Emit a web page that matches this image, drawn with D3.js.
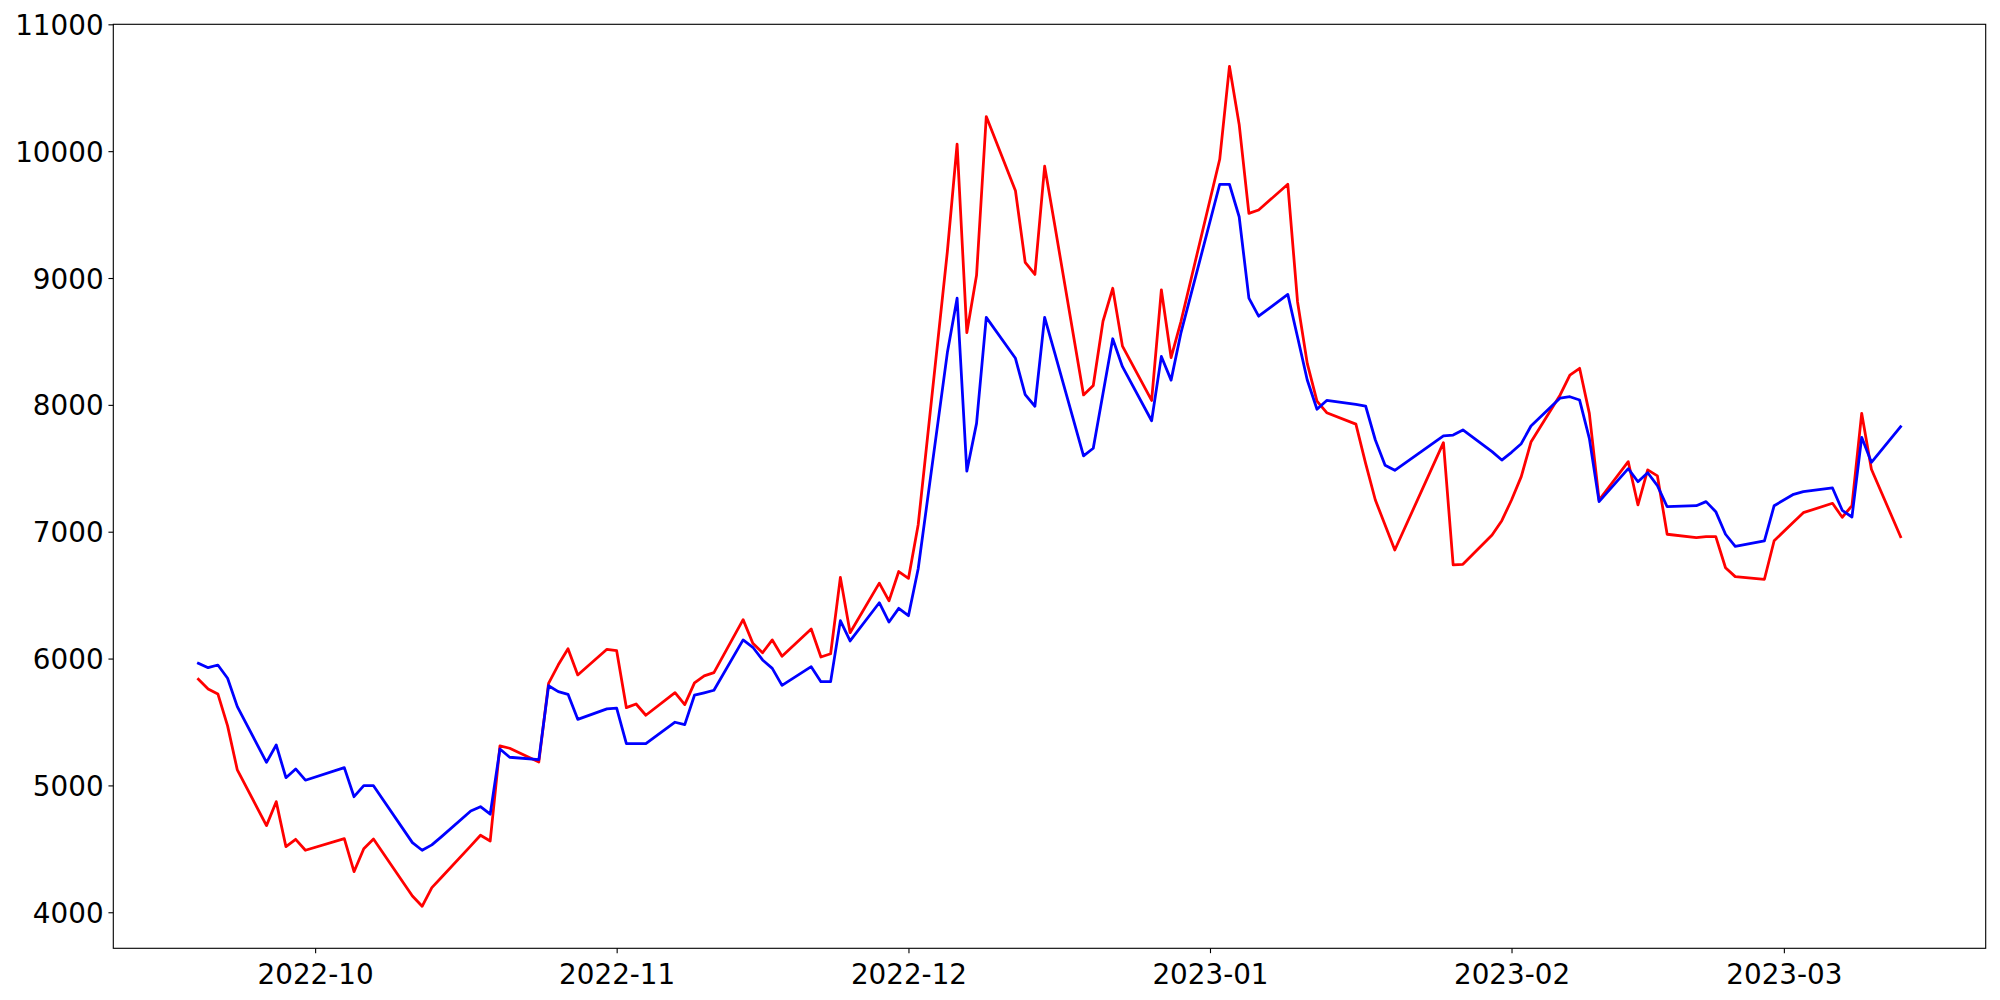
<!DOCTYPE html>
<html>
<head>
<meta charset="utf-8">
<script src="https://cdn.jsdelivr.net/npm/d3@7"></script>
<style>
  html, body { margin: 0; padding: 0; background: #ffffff; }
  svg { display: block; }
  text { font-family: "DejaVu Sans", sans-serif; fill: #000; }
</style>
</head>
<body>
<svg id="chart" width="2000" height="1000"></svg>
<script>
const dates = [
  "2022-09-19","2022-09-20","2022-09-21","2022-09-22","2022-09-23","2022-09-26","2022-09-27","2022-09-28","2022-09-29","2022-09-30",
  "2022-10-04","2022-10-05","2022-10-06","2022-10-07","2022-10-11","2022-10-12","2022-10-13","2022-10-14","2022-10-17","2022-10-18",
  "2022-10-19","2022-10-20","2022-10-21","2022-10-24","2022-10-25","2022-10-26","2022-10-27","2022-10-28","2022-10-31",
  "2022-11-01","2022-11-02","2022-11-03","2022-11-04","2022-11-07","2022-11-08","2022-11-09","2022-11-10","2022-11-11","2022-11-14",
  "2022-11-15","2022-11-16","2022-11-17","2022-11-18","2022-11-21","2022-11-22","2022-11-23","2022-11-24","2022-11-25","2022-11-28",
  "2022-11-29","2022-11-30",
  "2022-12-01","2022-12-02","2022-12-05","2022-12-06","2022-12-07","2022-12-08","2022-12-09","2022-12-12","2022-12-13","2022-12-14",
  "2022-12-15","2022-12-16","2022-12-19","2022-12-20","2022-12-21","2022-12-22","2022-12-23","2022-12-26","2022-12-27","2022-12-28",
  "2022-12-29",
  "2023-01-02","2023-01-03","2023-01-04","2023-01-05","2023-01-06","2023-01-09","2023-01-10","2023-01-11","2023-01-12","2023-01-13",
  "2023-01-16","2023-01-17","2023-01-18","2023-01-19","2023-01-20","2023-01-25","2023-01-26","2023-01-27","2023-01-30","2023-01-31",
  "2023-02-01","2023-02-02","2023-02-03","2023-02-06","2023-02-07","2023-02-08","2023-02-09","2023-02-10","2023-02-13","2023-02-14",
  "2023-02-15","2023-02-16","2023-02-17","2023-02-20","2023-02-21","2023-02-22","2023-02-23","2023-02-24","2023-02-27","2023-02-28",
  "2023-03-02","2023-03-03","2023-03-06","2023-03-07","2023-03-08","2023-03-09","2023-03-10","2023-03-13"
];

const redValues = [
  5837,5760,5721,5469,5122,4683,4872,4517,4575,4489,
  4580,4320,4501,4578,4128,4047,4194,4276,4523,4607,
  4562,5311,5293,5185,5805,5951,6078,5871,6073,
  6062,5613,5642,5553,5731,5637,5808,5863,5889,6307,
  6120,6046,6147,6018,6233,6012,6038,6640,6204,6595,
  6455,6686,
  6632,7055,9209,10056,8569,9021,10273,9688,9124,9028,
  9881,9435,8078,8153,8659,8919,8463,8035,8907,8373,
  8653,
  9936,10669,10211,9510,9536,9739,8813,8327,8030,7938,
  7848,7539,7250,7053,6856,7702,6738,6743,6974,7087,
  7250,7434,7707,8078,8235,8288,7933,7250,7552,7211,
  7487,7440,6980,6953,6961,6961,6716,6646,6625,6929,
  7077,7150,7224,7114,7205,7933,7492,6961
];

const blueValues = [
  5963,5928,5949,5845,5621,5182,5319,5061,5130,5041,
  5140,4911,4998,4998,4549,4489,4531,4596,4798,4832,
  4773,5287,5222,5203,5786,5739,5718,5521,5603,
  5610,5329,5329,5329,5498,5479,5711,5730,5750,6147,
  6089,5989,5923,5789,5936,5818,5818,6299,6139,6440,
  6288,6396,
  6338,6708,8412,8841,7477,7854,8690,8367,8080,7989,
  8690,8419,7598,7658,8090,8521,8301,7875,8382,8195,
  8563,
  9739,9739,9483,8841,8699,8871,8535,8196,7965,8035,
  8003,7991,7723,7524,7484,7755,7762,7802,7631,7565,
  7626,7694,7833,8054,8064,8038,7736,7237,7497,7394,
  7465,7363,7197,7205,7237,7158,6980,6885,6927,7205,
  7295,7316,7345,7169,7116,7744,7547,7828
];

const yTickValues = [4000, 5000, 6000, 7000, 8000, 9000, 10000, 11000];
const xTickLabels = ["2022-10", "2022-11", "2022-12", "2023-01", "2023-02", "2023-03"];

const parse = d3.utcParse("%Y-%m-%d");
const parseMonth = d3.utcParse("%Y-%m");
const seriesList = [
  { values: redValues, color: "#ff0000" },
  { values: blueValues, color: "#0000ff" }
];

const W = 2000, H = 1000;
const plot = { left: 113.3, top: 24.3, right: 1985.7, bottom: 948.3 };
const svg = d3.select("#chart");

svg.append("rect").attr("width", W).attr("height", H).attr("fill", "#ffffff");

const parsedDates = dates.map(parse);
const allValues = redValues.concat(blueValues);

// matplotlib-style 5% margins
const tExt = d3.extent(parsedDates);
const tPad = (tExt[1] - tExt[0]) * 0.05;
const vExt = d3.extent(allValues);
const vPad = (vExt[1] - vExt[0]) * 0.05;

const x = d3.scaleUtc()
  .domain([new Date(+tExt[0] - tPad), new Date(+tExt[1] + tPad)])
  .range([plot.left, plot.right]);
const y = d3.scaleLinear()
  .domain([vExt[0] - vPad, vExt[1] + vPad])
  .range([plot.bottom, plot.top]);

const fontSize = 27.8;
const tickLen = 4.86;
const pad = 4.86;

// lines
const line = d3.line()
  .x((d, i) => x(parsedDates[i]))
  .y(d => y(d));

const gLines = svg.append("g");
seriesList.forEach(s => {
  gLines.append("path")
    .datum(s.values)
    .attr("fill", "none")
    .attr("stroke", s.color)
    .attr("stroke-width", 2.78)
    .attr("stroke-linejoin", "round")
    .attr("stroke-linecap", "square")
    .attr("d", line);
});

// frame
svg.append("rect")
  .attr("x", plot.left).attr("y", plot.top)
  .attr("width", plot.right - plot.left)
  .attr("height", plot.bottom - plot.top)
  .attr("fill", "none")
  .attr("stroke", "#000")
  .attr("stroke-width", 1.11);

// x axis
const xAxis = d3.axisBottom(x)
  .tickValues(xTickLabels.map(parseMonth))
  .tickFormat(d3.utcFormat("%Y-%m"))
  .tickSize(tickLen)
  .tickPadding(pad);
const gx = svg.append("g")
  .attr("transform", `translate(0,${plot.bottom})`)
  .call(xAxis);
gx.select(".domain").remove();
gx.selectAll(".tick line").attr("stroke", "#000").attr("stroke-width", 1.11);
gx.selectAll(".tick text")
  .attr("font-family", "DejaVu Sans")
  .attr("font-size", fontSize)
  .attr("fill", "#000")
  .attr("dy", null)
  .attr("y", tickLen + pad)
  .attr("dominant-baseline", "text-before-edge");

// y axis
const yAxis = d3.axisLeft(y)
  .tickValues(yTickValues)
  .tickFormat(d3.format("d"))
  .tickSize(tickLen)
  .tickPadding(pad);
const gy = svg.append("g")
  .attr("transform", `translate(${plot.left},0)`)
  .call(yAxis);
gy.select(".domain").remove();
gy.selectAll(".tick line").attr("stroke", "#000").attr("stroke-width", 1.11);
gy.selectAll(".tick text")
  .attr("font-family", "DejaVu Sans")
  .attr("font-size", fontSize)
  .attr("fill", "#000")
  .attr("dy", "0.36em");
</script>
</body>
</html>
